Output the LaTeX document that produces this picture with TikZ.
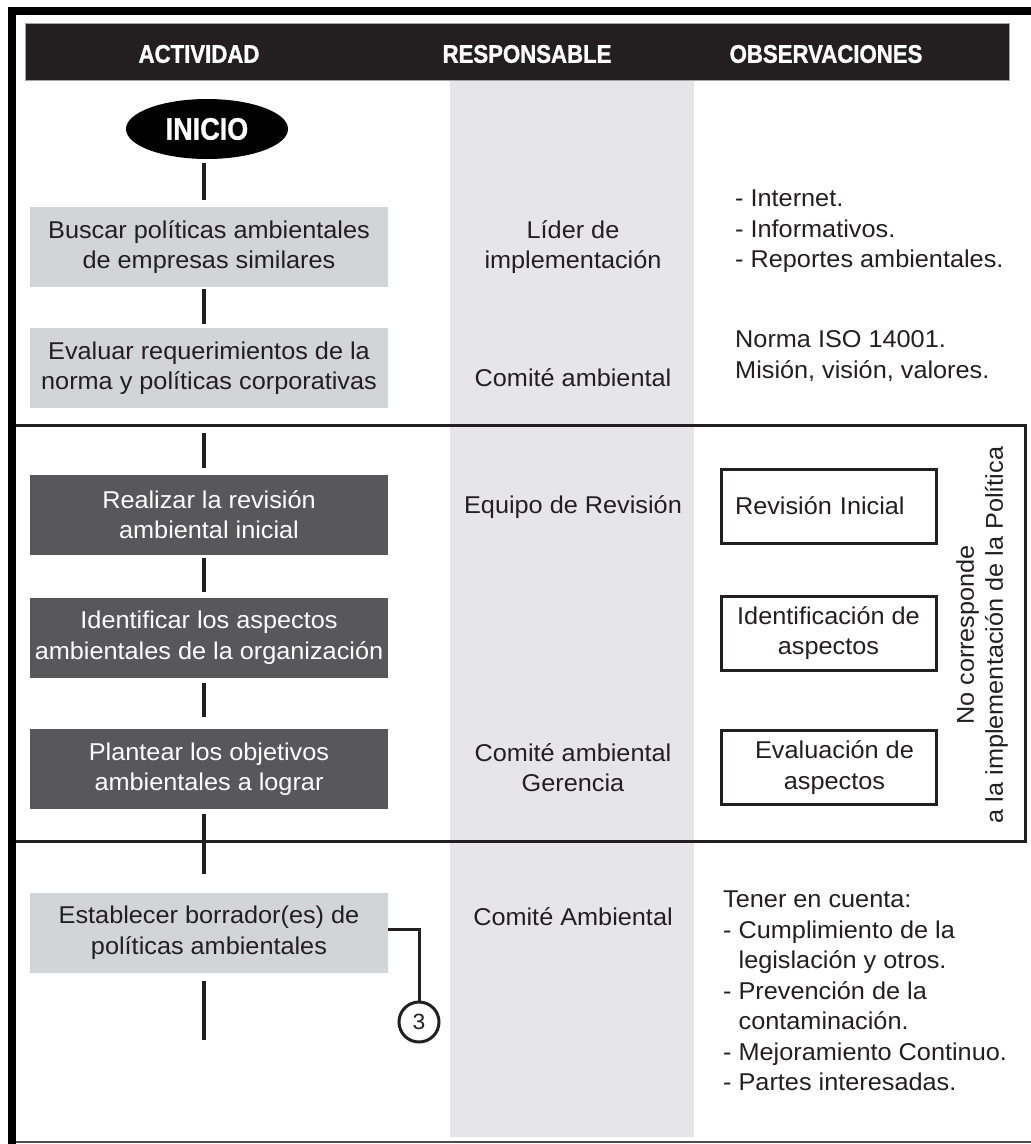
\documentclass[tikz,border=0pt]{standalone}
\usepackage{fontspec}
\setmainfont{Liberation Sans}[FakeStretch=1.04]
\newfontfamily\headfont{Liberation Sans}[FakeStretch=0.87, BoldFeatures={FakeBold=1.2}]
\usetikzlibrary{shapes.geometric}

\definecolor{ink}{HTML}{231F20}
\definecolor{headbg}{HTML}{231F20}
\definecolor{colgray}{HTML}{E6E6E8}
\definecolor{lightbox}{HTML}{D3D4D6}
\definecolor{darkbox}{HTML}{58585A}

\tikzset{
  body/.style={font=\fontsize{24.3}{30.5}\selectfont, text=ink},
  headlabel/.style={font=\headfont\bfseries\fontsize{25.5}{30}\selectfont, text=white, inner sep=0},
  actlight/.style={body, fill=lightbox, minimum width=358, minimum height=80, align=center, inner sep=0},
  actdark/.style={actlight, fill=darkbox, text=white},
  resp/.style={body, align=center, inner sep=0},
  obs/.style={body, align=left, inner sep=0, anchor=west},
  obox/.style={body, draw=ink, line width=3, fill=white, minimum width=215, minimum height=74, align=center, inner sep=0},
  flowline/.style={draw=ink, line width=4.5},
  thinline/.style={draw=ink, line width=3},
}

\begin{document}
\begin{tikzpicture}[x=1pt, y=-1pt]
  \useasboundingbox (0,0) rectangle (1031,1144);

  % responsible column shading
  \fill[colgray] (450,80) rectangle (694,1137);

  % header bar
  \fill[headbg] (25,23) rectangle (1009,80);
  \draw[gray!70, line width=0.8] (25,23) rectangle (1009,80);
  \node[headlabel] (hA) at (199,54) {ACTIVIDAD};
  \node[headlabel] (hR) at (527,54) {RESPONSABLE};
  \node[headlabel] (hO) at (826,54) {OBSERVACIONES};

  % outer frame
  \draw[black, line width=8] (8,11) -- (1031,11);
  \draw[black, line width=8] (12,7) -- (12,1144);
  \draw[ink!80, line width=2] (16,1142) -- (1031,1142);

  % frame around the review block
  \draw[thinline] (16,425) -- (1025,425) -- (1025,841) -- (16,841);

  % activities
  \node[ellipse, fill=black, minimum width=162, minimum height=60, inner sep=0,
        font=\headfont\bfseries\fontsize{31}{34}\selectfont, text=white] (inicio) at (207,129) {INICIO};
  \node[actlight] (b1) at (209,247) {Buscar políticas ambientales\\de empresas similares};
  \node[actlight] (b2) at (209,368) {Evaluar requerimientos de la\\norma y políticas corporativas};
  \node[actdark]  (b3) at (209,514.5) {Realizar la revisión\\ambiental inicial};
  \node[actdark]  (b4) at (209,637.5) {Identificar los aspectos\\ambientales de la organización};
  \node[actdark]  (b5) at (209,769) {Plantear los objetivos\\ambientales a lograr};
  \node[actlight] (b6) at (209,932.5) {Establecer borrador(es) de\\políticas ambientales};

  % flow connectors
  \coordinate (spine) at (204,0);
  \coordinate (tail) at (204,1040);
  \draw[flowline, shorten <=4, shorten >=7]  (inicio.south -| spine) -- (b1.north -| spine);
  \draw[flowline, shorten <=2, shorten >=4]  (b1.south -| spine) -- (b2.north -| spine);
  \draw[flowline, shorten <=25, shorten >=6] (b2.south -| spine) -- (b3.north -| spine);
  \draw[flowline, shorten <=3, shorten >=5]  (b3.south -| spine) -- (b4.north -| spine);
  \draw[flowline, shorten <=5, shorten >=12] (b4.south -| spine) -- (b5.north -| spine);
  \draw[flowline, shorten <=5, shorten >=18] (b5.south -| spine) -- (b6.north -| spine);
  \draw[flowline, shorten <=8] (b6.south -| spine) -- (tail);

  % off-page connector
  \node[circle, draw=ink, line width=3, fill=white, minimum size=40, inner sep=0,
        font=\fontsize{22}{24}\selectfont, text=ink] (c3) at (419,1022) {3};
  \draw[thinline] ([yshift=3.5pt]b6.east) -| (c3.north);

  % responsible
  \node[resp] (r1) at (573,247) {Líder de\\implementación};
  \node[resp] (r2) at (573,378) {Comité ambiental};
  \node[resp] (r3) at (573,507) {Equipo de Revisión};
  \node[resp] (r4) at (573,767.5) {Comité ambiental\\Gerencia};
  \node[resp] (r5) at (573,917) {Comité Ambiental};

  % observations
  \node[obs] (o1) at (735,231.5) {- Internet.\\- Informativos.\\- Reportes ambientales.};
  \node[obs] (o2) at (735,356) {Norma ISO 14001.\\Misión, visión, valores.};
  \node[obs] (o3) at (723,991) {Tener en cuenta:\\- Cumplimiento de la\\\hphantom{- }legislación y otros.\\- Prevención de la\\\hphantom{- }contaminación.\\- Mejoramiento Continuo.\\- Partes interesadas.};

  \node[obox, text width=187, align=left, inner xsep=14] (k1) at (828.5,506) {Revisión Inicial};
  \node[obox] (k2) at (828.5,633) {Identificación de\\aspectos};
  \node[obox] (k3) at (828.5,767.5) {\hspace*{12pt}Evaluación de\\\hspace*{12pt}aspectos};

  \node[body, rotate=90, align=center, inner sep=0,
        font=\fontsize{24.3}{29}\selectfont] (note) at (982,635)
        {No corresponde\\a la implementación de la Política};
\end{tikzpicture}
\end{document}
